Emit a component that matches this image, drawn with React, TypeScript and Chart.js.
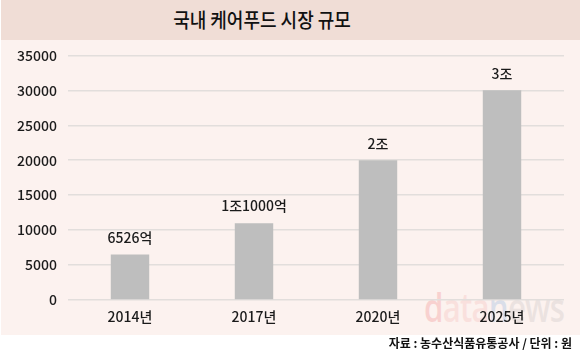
import React, { useEffect, useRef } from "react";
import { Chart, registerables } from "chart.js";

Chart.register(...registerables);

const categories = ["2014년", "2017년", "2020년", "2025년"];
const values = [6526, 11000, 20000, 30000];
const valueLabels = ["6526억", "1조1000억", "2조", "3조"];
const yTicks = [0, 5000, 10000, 15000, 20000, 25000, 30000, 35000];

const FONT = "'Noto Sans CJK KR', 'Noto Sans', sans-serif";

const labelPlugin = {
  id: "valueLabels",
  afterDatasetsDraw(chart: any) {
    const ctx = chart.ctx;
    const meta = chart.getDatasetMeta(0);
    ctx.save();
    ctx.font = `500 14px ${FONT}`;
    ctx.fillStyle = "#1a1a1a";
    ctx.textAlign = "center";
    ctx.textBaseline = "middle";
    meta.data.forEach((bar: any, i: number) => {
      ctx.fillText(valueLabels[i], bar.x, bar.y - 17);
    });
    ctx.restore();
  },
};

export default function App() {
  const ref = useRef<HTMLCanvasElement>(null);
  useEffect(() => {
    if (!ref.current) return;
    const chart = new Chart(ref.current, {
      type: "bar",
      data: {
        labels: categories,
        datasets: [
          {
            data: values,
            backgroundColor: "#bebebe",
            borderWidth: 0,
            categoryPercentage: 1,
            barPercentage: 0.31,
          },
        ],
      },
      options: {
        animation: false,
        responsive: false,
        maintainAspectRatio: false,
        layout: { padding: { top: 0, right: 16, bottom: 0, left: 0 } },
        plugins: { legend: { display: false }, tooltip: { enabled: false } },
        scales: {
          x: {
            grid: { display: false, drawTicks: false },
            border: { display: false },
            ticks: {
              color: "#1a1a1a",
              font: { family: FONT, size: 14, weight: "500" as any },
              padding: 8,
            },
            afterFit(scale: any) {
              scale.height = 35;
            },
          },
          y: {
            min: 0,
            max: 35000,
            afterBuildTicks(scale: any) {
              scale.ticks = yTicks.map((v) => ({ value: v }));
            },
            grid: { color: "#e2dedc", lineWidth: 1.5, drawTicks: false },
            border: { display: false },
            ticks: {
              color: "#1a1a1a",
              font: { family: FONT, size: 14, weight: "500" as any },
              padding: 11,
              callback: (v: any) => String(v),
            },
            afterFit(scale: any) {
              scale.width = 68;
            },
          },
        },
      },
      plugins: [labelPlugin],
    });
    return () => chart.destroy();
  }, []);

  return (
    <div
      style={{
        position: "fixed",
        left: 0,
        top: 0,
        width: 580,
        height: 358,
        background: "#ffffff",
        overflow: "hidden",
        fontFamily: FONT,
      }}
    >
      <div
        style={{
          position: "absolute",
          left: 1,
          top: 0,
          width: 579,
          height: 40,
          background: "#f0ddd6",
        }}
      />
      <div
        style={{
          position: "absolute",
          left: 262,
          top: 20,
          transform: "translate(-50%, -50%) scaleX(0.9)",
          fontSize: 20,
          fontWeight: 500,
          color: "#111",
          whiteSpace: "nowrap",
          lineHeight: "24px",
        }}
      >
        국내 케어푸드 시장 규모
      </div>
      <div
        style={{
          position: "absolute",
          left: 1,
          top: 40,
          width: 579,
          height: 295,
          background: "#fcf2ef",
        }}
      />
      <div
        style={{
          position: "absolute",
          left: 424,
          top: 284,
          fontSize: 40,
          fontFamily: "'Open Sans', sans-serif",
          fontWeight: 600,
          letterSpacing: -1,
          opacity: 0.17,
          lineHeight: "46px",
          whiteSpace: "nowrap",
          transform: "scaleX(0.78)",
          transformOrigin: "left top",
        }}
      >
        <span style={{ color: "#e8343a" }}>d</span>
        <span style={{ color: "#f08a8a" }}>ata</span>
        <span style={{ color: "#3a7fd0" }}>n</span>
        <span style={{ color: "#9a9a9a" }}>ews</span>
      </div>
      <canvas
        ref={ref}
        width={580}
        height={299}
        style={{ position: "absolute", left: 0, top: 36, width: 580, height: 299 }}
      />
      <div
        style={{
          position: "absolute",
          right: 8,
          top: 334,
          fontSize: 12,
          fontWeight: 700,
          color: "#111",
          whiteSpace: "nowrap",
        }}
      >
        자료 : 농수산식품유통공사 / 단위 : 원
      </div>
    </div>
  );
}
